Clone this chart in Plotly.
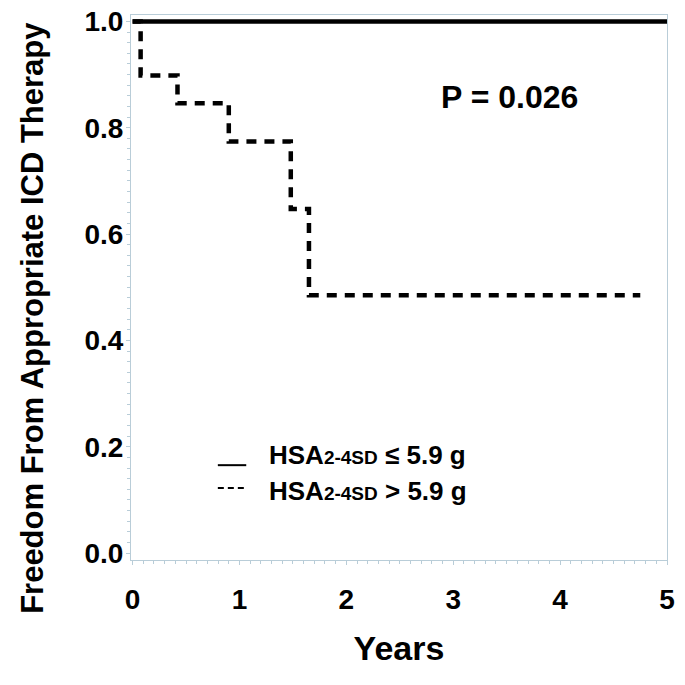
import plotly.graph_objects as go

# Data
low_x = [0, 5.0]
low_y = [1.0, 1.0]
high_x = [0, 0.075, 0.42, 0.90, 1.48, 1.65, 4.75]
high_y = [1.0, 0.898, 0.846, 0.774, 0.647, 0.485, 0.485]
x_ticks = [0, 1, 2, 3, 4, 5]
y_ticks = [0.0, 0.2, 0.4, 0.6, 0.8, 1.0]
y_tick_labels = ["0.0", "0.2", "0.4", "0.6", "0.8", "1.0"]
p_text = "P = 0.026"
y_title = "Freedom From Appropriate ICD Therapy"
x_title = "Years"
legend_labels = ["HSA<span style='font-size:19px'>2-4SD</span> \u2264 5.9 g",
                 "HSA<span style='font-size:19px'>2-4SD</span> > 5.9 g"]

FONT = "Liberation Sans"
axcol = "#b9cdd8"

fig = go.Figure()
fig.add_trace(go.Scatter(x=low_x, y=low_y, mode="lines", line=dict(color="black", width=4.5),
                         line_shape="hv", showlegend=False))
fig.add_trace(go.Scatter(x=high_x, y=high_y, mode="lines",
                         line=dict(color="black", width=4.5, dash="10px,8px"),
                         line_shape="hv", showlegend=False))

axis_common = dict(showgrid=False, zeroline=False, showline=True, linecolor=axcol, linewidth=1,
                   mirror=True, ticks="outside", tickcolor=axcol, ticklen=4,
                   tickfont=dict(family=FONT, size=28, color="black"))

fig.update_xaxes(range=[-0.015, 5.0], tickvals=x_ticks, ticktext=["<b>%d</b>" % v for v in x_ticks],
                 minor=dict(dtick=0.1, ticks="outside", ticklen=3, tickcolor=axcol),
                 ticklabelstandoff=10,
                 title=dict(text="<b>" + x_title + "</b>", font=dict(family=FONT, size=34, color="black"),
                            standoff=22),
                 **axis_common)
fig.update_yaxes(range=[-0.013, 1.012], tickvals=y_ticks, ticktext=["<b>%s</b>" % t for t in y_tick_labels],
                 minor=dict(dtick=0.02, ticks="outside", ticklen=3, tickcolor=axcol),
                 ticklabelstandoff=-3,
                 **axis_common)

# y-axis title placed as in the reference (shifted below the plot centre)
fig.add_annotation(x=-0.185, y=0.444, xref="paper", yref="paper",
                   text="<b>" + y_title + "</b>", textangle=-90,
                   showarrow=False, font=dict(family=FONT, size=31, color="black"),
                   xanchor="center", yanchor="middle")

fig.add_annotation(x=0.707, y=0.850, xref="paper", yref="paper", text="<b>" + p_text + "</b>",
                   showarrow=False, font=dict(family=FONT, size=32, color="black"),
                   xanchor="center", yanchor="middle")

legend_y = [0.193, 0.127]
for lab, yp in zip(legend_labels, legend_y):
    fig.add_annotation(x=0.254, y=yp, xref="paper", yref="paper", text="<b>" + lab + "</b>",
                       showarrow=False, font=dict(family=FONT, size=26, color="black"),
                       xanchor="left", yanchor="middle")
fig.add_shape(type="line", xref="paper", yref="paper", x0=0.162, x1=0.215, y0=0.174, y1=0.174,
              line=dict(color="black", width=2))
fig.add_shape(type="line", xref="paper", yref="paper", x0=0.162, x1=0.215, y0=0.132, y1=0.132,
              line=dict(color="black", width=2, dash="6px,4px"))

fig.update_layout(width=685, height=685,
                  margin=dict(l=131, r=18, t=15, b=125, autoexpand=False),
                  plot_bgcolor="white", paper_bgcolor="white", showlegend=False)
fig.write_html("out.html", config={"displayModeBar": False},
               post_script="document.body.style.margin='0';")
